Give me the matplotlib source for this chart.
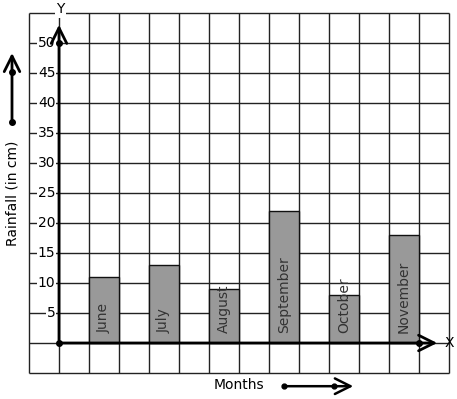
import matplotlib
matplotlib.use('Agg')
import matplotlib.pyplot as plt

# data
months = ['June', 'July', 'August', 'September', 'October', 'November']
rainfall = [11, 13, 9, 22, 8, 18]
y_ticks = [5, 10, 15, 20, 25, 30, 35, 40, 45, 50]

# one grid column = 1 x unit (30 px), one grid row = 5 y units (30 px)
W, H = 457, 399
fig = plt.figure(figsize=(W / 100, H / 100), dpi=100)
ax = fig.add_axes([0, 0, 1, 1])
ax.set_xlim(-1 - 29 / 30, 13 + 8 / 30)
ax.set_ylim(-5 - 26 / 6, 55 + 13 / 6)
ax.axis('off')

fs = 10
grid_kw = dict(color='#222222', linewidth=1.0, zorder=1)
ax.vlines(range(-1, 14), -5, 55, **grid_kw)
ax.hlines(range(-5, 56, 5), -1, 13, **grid_kw)

# bars, one per month, every other column
xpos = [1 + 2 * i for i in range(len(months))]
ax.bar(xpos, rainfall, width=1, align='edge', color='#999999',
       edgecolor='#111111', linewidth=1.0, zorder=2)
for x, m in zip(xpos, months):
    ax.text(x + 0.5, 1.6, m, rotation=90, ha='center', va='bottom',
            fontsize=fs, color='#333333', zorder=3)

# axes with arrows
arrow = dict(arrowstyle='->, head_width=0.35, head_length=0.7', color='black',
             lw=2.0, mutation_scale=16)
ax.annotate('', xy=(0, 53.5), xytext=(0, 0), arrowprops=arrow, zorder=4)
ax.annotate('', xy=(12.7, 0), xytext=(0, 0), arrowprops=arrow, zorder=4)
ax.plot([0, 0, 12], [0, 50, 0], 'o', color='black', markersize=4, zorder=5)
ax.text(0.05, 55.6, 'Y', ha='center', va='center', fontsize=fs,
        bbox=dict(facecolor='white', edgecolor='none', pad=1.0), zorder=5)
ax.text(12.85, 0, 'X', ha='left', va='center', fontsize=fs, zorder=5)

for t in y_ticks:
    ax.text(-0.12, t, str(t), ha='right', va='center', fontsize=fs,
            bbox=dict(facecolor='white', edgecolor='none', pad=0.3), zorder=3)

# side label with arrow
lx = -1 - 17 / 30
ax.text(lx, 25.0, 'Rainfall (in cm)', rotation=90, ha='center',
        va='center', fontsize=fs)
ax.annotate('', xy=(lx, 48.8), xytext=(lx, 36.8), arrowprops=arrow)
ax.plot([lx, lx], [36.8, 45.2], 'o', color='black', markersize=4)

# bottom label with arrow
ax.text(6.0, -7.05, 'Months', ha='center', va='center', fontsize=fs)
ax.annotate('', xy=(9.9, -7.2), xytext=(7.5, -7.2), arrowprops=dict(arrow, lw=1.8))
ax.plot([7.5, 9.15], [-7.2, -7.2], 'o', color='black', markersize=3.5)

fig.savefig('out.png', dpi=100)
